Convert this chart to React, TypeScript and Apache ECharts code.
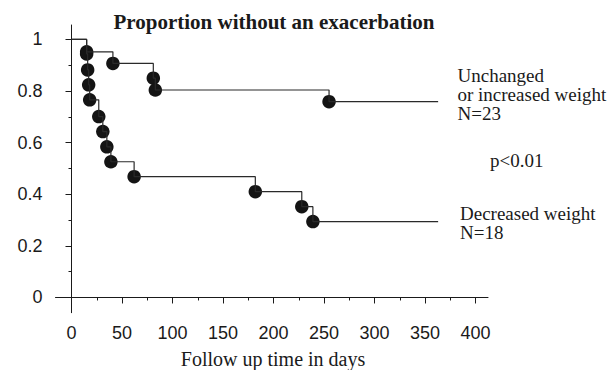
import React, { useEffect, useRef } from "react";
import * as echarts from "echarts";

// Kaplan–Meier steps: day of each drop and the proportion after it (last entry = end of follow-up)
const upperDays = [0, 15, 41, 81, 83, 255, 363];
const upperSurv = [1, 0.952, 0.907, 0.85, 0.804, 0.759, 0.759];
const lowerDays = [0, 15, 16, 17, 18, 27, 31, 35, 39, 62, 182, 228, 239, 363];
const lowerSurv = [1, 0.944, 0.882, 0.824, 0.766, 0.701, 0.643, 0.584, 0.526, 0.468, 0.41, 0.352, 0.294, 0.294];

const xMajorTicks = [0, 50, 100, 150, 200, 250, 300, 350, 400];
const xMinorTicks = [25, 75, 125, 175, 225, 275, 325, 375];
const yMajorTicks = [0, 0.2, 0.4, 0.6, 0.8, 1];
const yMinorTicks = [0.1, 0.3, 0.5, 0.7, 0.9];

const titleText = "Proportion without an exacerbation";
const xAxisTitle = "Follow up time in days";
const upperLabel = ["Unchanged", "or increased weight", "N=23"];
const lowerLabel = ["Decreased weight", "N=18"];
const pText = "p<0.01";

const SANS = "'Liberation Sans', Arial, sans-serif";
const SERIF = "'Liberation Serif', 'Times New Roman', serif";

function pairs(xs: number[], ys: number[]) {
  return xs.map((x, i) => [x, ys[i]]);
}
function dots(xs: number[], ys: number[]) {
  return pairs(xs, ys).slice(1, xs.length - 1);
}

export default function App() {
  const ref = useRef<HTMLDivElement>(null);
  useEffect(() => {
    if (!ref.current) return;
    const chart = echarts.init(ref.current, null, { renderer: "svg" });
    const LEFT = 55.5, TOP = 25, HEIGHT = 287.7;
    const ZERO_PX = 71.5, PX_PER_DAY = 1.01;
    const X_MIN = (LEFT - ZERO_PX) / PX_PER_DAY;
    const X_MAX = 412.4;
    const Y_MIN = -0.059, Y_MAX = 1.056;
    const ink = "#1a1a1a";
    chart.setOption({
      animation: false,
      backgroundColor: "#ffffff",
      grid: { left: LEFT, top: TOP, width: (X_MAX - X_MIN) * PX_PER_DAY, height: HEIGHT, containLabel: false },
      xAxis: [
        {
          type: "value", min: X_MIN, max: X_MAX, position: "bottom",
          axisLine: { show: true, lineStyle: { color: ink, width: 1 } },
          splitLine: { show: false },
          axisTick: { show: true, length: 6, customValues: xMajorTicks, lineStyle: { color: ink } },
          axisLabel: { show: true, customValues: xMajorTicks, margin: 11, fontFamily: SANS, fontSize: 18, color: ink },
        },
        {
          type: "value", min: X_MIN, max: X_MAX, position: "bottom",
          axisLine: { show: false }, splitLine: { show: false },
          axisTick: { show: true, length: 3, customValues: xMinorTicks, lineStyle: { color: ink } },
          axisLabel: { show: false },
        },
      ],
      yAxis: [
        {
          type: "value", min: Y_MIN, max: Y_MAX, position: "left",
          axisLine: { show: true, lineStyle: { color: ink, width: 1 } },
          splitLine: { show: false },
          axisTick: { show: true, length: 6, customValues: yMajorTicks, lineStyle: { color: ink } },
          axisLabel: {
            show: true, customValues: yMajorTicks, margin: 13, fontFamily: SANS, fontSize: 18, color: ink,
            formatter: (v: number) => String(Number(v.toFixed(1))),
          },
        },
        {
          type: "value", min: Y_MIN, max: Y_MAX, position: "left",
          axisLine: { show: false }, splitLine: { show: false },
          axisTick: { show: true, length: 3, customValues: yMinorTicks, lineStyle: { color: ink } },
          axisLabel: { show: false },
        },
      ],
      series: [
        {
          type: "line", step: "end", data: pairs(upperDays, upperSurv), showSymbol: false,
          lineStyle: { color: "#2a2a2a", width: 1.2 }, xAxisIndex: 0, yAxisIndex: 0,
        },
        {
          type: "line", step: "end", data: pairs(lowerDays, lowerSurv), showSymbol: false,
          lineStyle: { color: "#2a2a2a", width: 1.2 }, xAxisIndex: 0, yAxisIndex: 0,
        },
        {
          type: "scatter", data: dots(upperDays, upperSurv), symbolSize: 13.5,
          itemStyle: { color: "#141414", opacity: 1 }, xAxisIndex: 0, yAxisIndex: 0,
        },
        {
          type: "scatter", data: dots(lowerDays, lowerSurv), symbolSize: 13.5,
          itemStyle: { color: "#141414", opacity: 1 }, xAxisIndex: 0, yAxisIndex: 0,
        },
      ],
      graphic: [
        { type: "text", x: 274, y: 22, style: { text: titleText, font: `bold 21px ${SERIF}`, fill: ink, textAlign: "center", textVerticalAlign: "middle" } },
        { type: "text", x: 273, y: 359, style: { text: xAxisTitle, font: `20px ${SERIF}`, fill: ink, textAlign: "center", textVerticalAlign: "middle" } },
        { type: "text", x: 457.5, y: 65.5, style: { text: upperLabel.join("\n"), font: `19px ${SERIF}`, lineHeight: 19, fill: ink, textAlign: "left", textVerticalAlign: "top" } },
        { type: "text", x: 490, y: 160, style: { text: pText, font: `19px ${SERIF}`, fill: ink, textAlign: "left", textVerticalAlign: "middle" } },
        { type: "text", x: 460, y: 203.5, style: { text: lowerLabel.join("\n"), font: `19px ${SERIF}`, lineHeight: 19, fill: ink, textAlign: "left", textVerticalAlign: "top" } },
      ],
    });
    return () => chart.dispose();
  }, []);
  return (
    <div
      ref={ref}
      style={{ position: "fixed", left: 0, top: 0, width: 612, height: 370, background: "#fff" }}
    />
  );
}
